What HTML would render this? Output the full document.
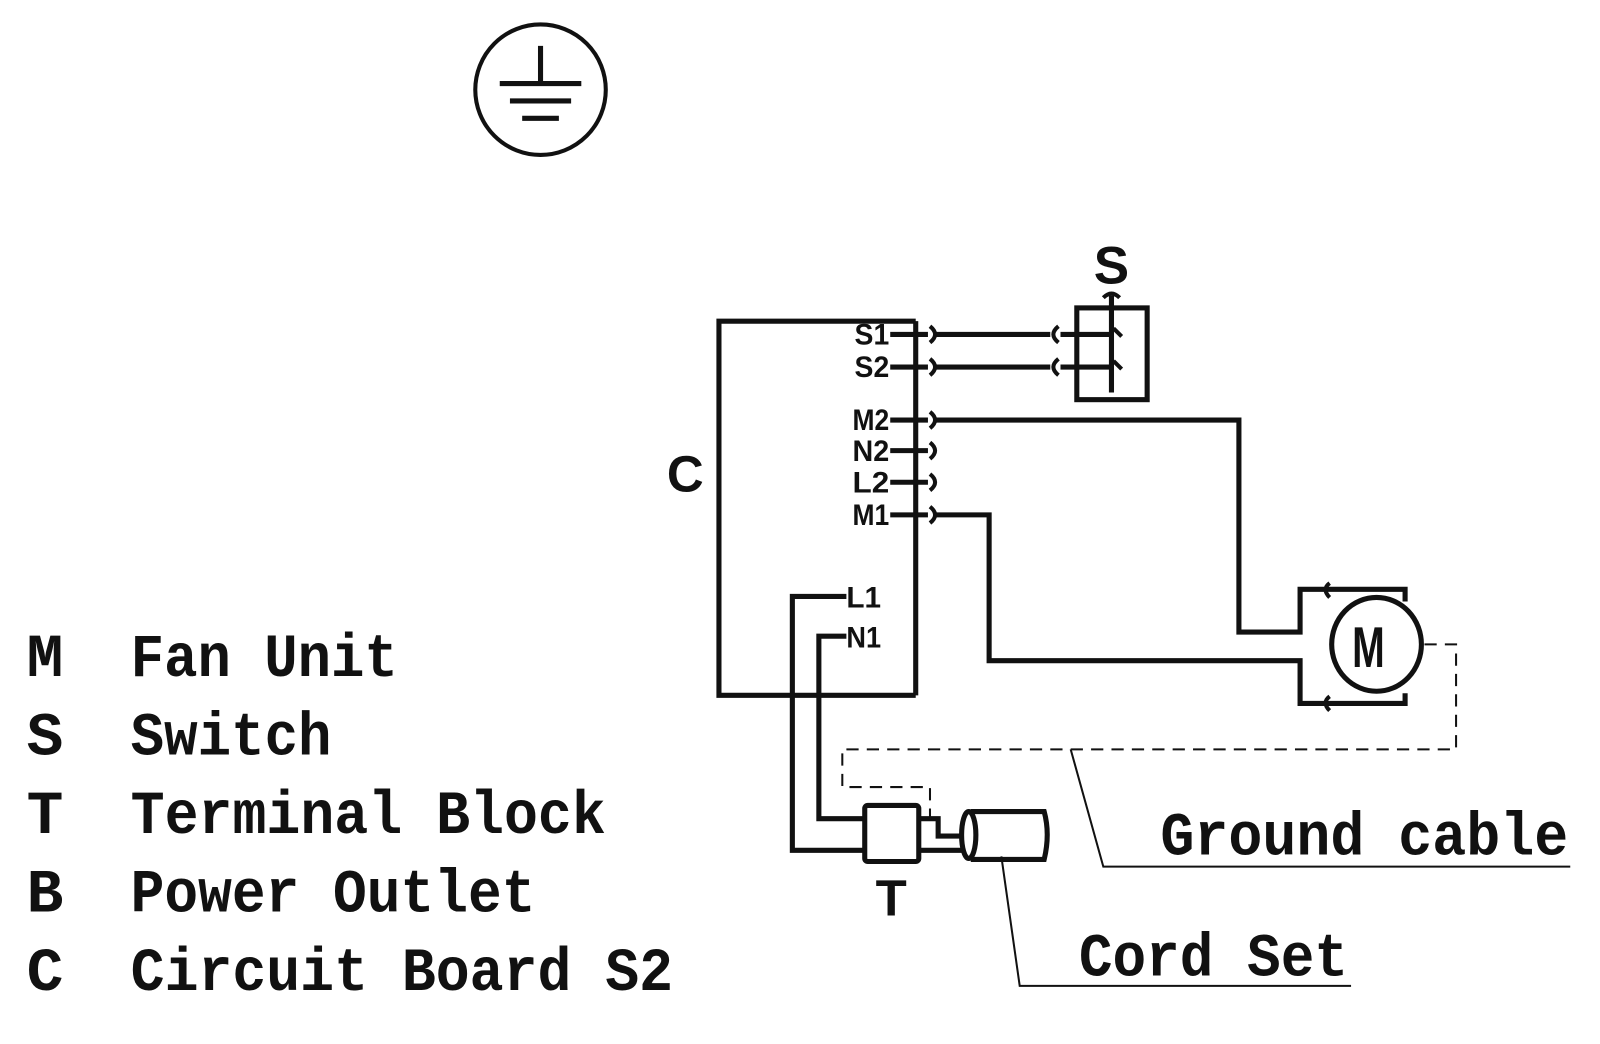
<!DOCTYPE html>
<html><head><meta charset="utf-8"><style>
html,body{margin:0;padding:0;background:#fff;}
svg{display:block;}
.lg{font-family:"Liberation Mono",monospace;font-weight:bold;font-size:60px;fill:#111;}
.pl{font-family:"Liberation Sans",sans-serif;font-weight:bold;font-size:29px;fill:#111;}
</style></head><body>
<svg width="1600" height="1044" viewBox="0 0 1569 1024" xmlns="http://www.w3.org/2000/svg">
<g fill="none" stroke="#111" stroke-width="5" stroke-linejoin="miter">
<circle cx="530" cy="88" r="64" stroke-width="4"/>
<line x1="530" y1="45" x2="530" y2="82"/>
<line x1="490" y1="82" x2="570" y2="82"/>
<line x1="500" y1="99" x2="560" y2="99"/>
<line x1="512" y1="116" x2="548" y2="116"/>
<polyline points="898,315 705,315 705,682 898,682"/>
<line x1="898" y1="315" x2="898" y2="682"/>
<line x1="873" y1="328" x2="910" y2="328"/>
<line x1="873" y1="360" x2="910" y2="360"/>
<line x1="873" y1="412" x2="910" y2="412"/>
<line x1="873" y1="442" x2="910" y2="442"/>
<line x1="873" y1="473" x2="910" y2="473"/>
<line x1="873" y1="505" x2="910" y2="505"/>
<path d="M912,320 q10,8 0,16" stroke-width="4"/>
<path d="M912,352 q10,8 0,16" stroke-width="4"/>
<path d="M912,404 q10,8 0,16" stroke-width="4"/>
<path d="M912,434 q10,8 0,16" stroke-width="4"/>
<path d="M912,465 q10,8 0,16" stroke-width="4"/>
<path d="M912,497 q10,8 0,16" stroke-width="4"/>
<line x1="918" y1="328" x2="1030" y2="328"/>
<line x1="918" y1="360" x2="1030" y2="360"/>
<path d="M1038,320 q-10,8 0,16" stroke-width="4"/>
<path d="M1038,352 q-10,8 0,16" stroke-width="4"/>
<line x1="1040" y1="328" x2="1090" y2="328"/>
<line x1="1040" y1="360" x2="1090" y2="360"/>
<rect x="1056" y="302" width="69" height="90"/>
<line x1="1090" y1="290" x2="1090" y2="385"/>
<path d="M1082,292 q8,-8 16,0" stroke-width="4"/>
<path d="M1092,322 l8,8" stroke-width="4"/>
<path d="M1092,354 l8,8" stroke-width="4"/>
<polyline points="918,412 1215,412 1215,620 1275,620 1275,578 1378,578 1378,590"/>
<polyline points="918,505 970,505 970,648 1275,648 1275,690 1378,690 1378,680"/>
<path d="M1304,572 q-8,6 0,14" stroke-width="4"/>
<path d="M1304,683 q-8,6 0,14" stroke-width="4"/>
<ellipse cx="1350" cy="632" rx="44" ry="46"/>
<polyline points="830,585 777,585 777,834 848,834"/>
<polyline points="830,624 803,624 803,803 848,803"/>
<rect x="848" y="790" width="53" height="55" rx="3"/>
<polyline points="901,803 920,803 920,820 945,820"/>
<line x1="901" y1="834" x2="945" y2="834"/>
<path d="M952,796 L1024,796 q6,22 0,47 L952,843"/>
<ellipse cx="950" cy="819" rx="7" ry="23"/>
</g>
<g fill="none" stroke="#111" stroke-width="2" stroke-dasharray="12,8">
<polyline points="1397,632 1428,632 1428,735 826,735 826,772 912,772 912,806 920,806"/>
</g>
<g fill="none" stroke="#111" stroke-width="2">
<polyline points="1050,735 1082,850 1540,850"/>
<polyline points="982,840 1000,967 1325,967"/>
</g>
<text class="pl" x="872" y="338" text-anchor="end" textLength="34" lengthAdjust="spacingAndGlyphs">S1</text>
<text class="pl" x="872" y="370" text-anchor="end" textLength="34" lengthAdjust="spacingAndGlyphs">S2</text>
<text class="pl" x="872" y="422" text-anchor="end" textLength="36" lengthAdjust="spacingAndGlyphs">M2</text>
<text class="pl" x="872" y="452" text-anchor="end" textLength="36" lengthAdjust="spacingAndGlyphs">N2</text>
<text class="pl" x="872" y="483" text-anchor="end" textLength="36" lengthAdjust="spacingAndGlyphs">L2</text>
<text class="pl" x="872" y="515" text-anchor="end" textLength="36" lengthAdjust="spacingAndGlyphs">M1</text>
<text class="pl" x="830" y="596" textLength="34" lengthAdjust="spacingAndGlyphs">L1</text>
<text class="pl" x="830" y="635" textLength="34" lengthAdjust="spacingAndGlyphs">N1</text>
<text x="672" y="482" text-anchor="middle" style="font-family:'Liberation Sans',sans-serif;font-size:50px;font-weight:bold;fill:#111">C</text>
<text x="1090" y="278" text-anchor="middle" style="font-family:'Liberation Sans',sans-serif;font-size:52px;font-weight:bold;fill:#111">S</text>
<text x="874" y="898" text-anchor="middle" style="font-family:'Liberation Sans',sans-serif;font-size:50px;font-weight:bold;fill:#111">T</text>
<text x="1342" y="654" text-anchor="middle" style="font-family:'Liberation Sans',sans-serif;font-size:56px;font-weight:bold;fill:#111" textLength="32" lengthAdjust="spacingAndGlyphs">M</text>
<text class="lg" x="1138" y="838" textLength="400" lengthAdjust="spacingAndGlyphs">Ground cable</text>
<text class="lg" x="1058" y="957" textLength="264" lengthAdjust="spacingAndGlyphs">Cord Set</text>
<text class="lg" x="26" y="663">M</text>
<text class="lg" x="26" y="740">S</text>
<text class="lg" x="26" y="817">T</text>
<text class="lg" x="26" y="894">B</text>
<text class="lg" x="26" y="971">C</text>
<text class="lg" x="128" y="663" textLength="262" lengthAdjust="spacingAndGlyphs">Fan Unit</text>
<text class="lg" x="128" y="740" textLength="197" lengthAdjust="spacingAndGlyphs">Switch</text>
<text class="lg" x="128" y="817" textLength="466" lengthAdjust="spacingAndGlyphs">Terminal Block</text>
<text class="lg" x="128" y="894" textLength="397" lengthAdjust="spacingAndGlyphs">Power Outlet</text>
<text class="lg" x="128" y="971" textLength="532" lengthAdjust="spacingAndGlyphs">Circuit Board S2</text>
</svg>
</body></html>
